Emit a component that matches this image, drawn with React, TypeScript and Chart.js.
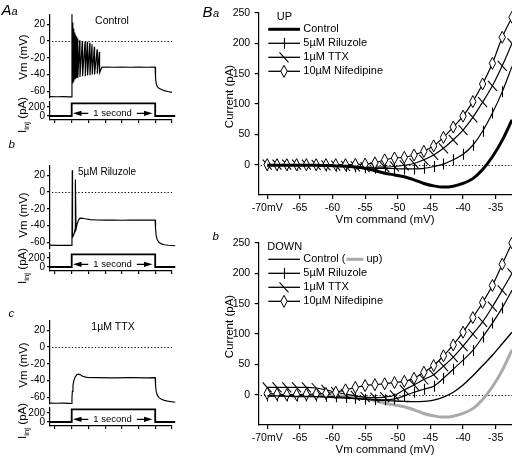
import React, { useEffect, useRef } from 'react';
import { Chart, registerables } from 'chart.js';

Chart.register(...registerables);

const FONT = '"Liberation Sans", Arial, Helvetica, sans-serif';

// ---------------- A panels: current-clamp traces (time in ms from step onset) ----------------
const timeTicks = [-200, 0, 200, 400, 600, 800, 1000, 1200];
const vmTicks = [-60, -40, -20, 0, 20];
const iinjTicks = [0, 200];
const panelTitles = ['Control', '5\u00b5M Riluzole', '1\u00b5M TTX'];

// current step (pA)
const stepT = [-260, 0, 0, 1000, 1000, 1240];
const stepI = [0, 0, 280, 280, 0, 0];

// Control trace
const ctrlPreT = [-260, -180, -100, -30, -1];
const ctrlPreV = [-66.4, -66.6, -66.5, -66.7, -66.8];
const ctrlSpikeT = [3, 13, 23, 34, 45, 57, 70, 96, 127, 160, 187, 216, 243, 271, 304, 331];
const ctrlSpikePeak = [32, 22, 15, 10, 7, 5, 3, 1, 0, -1, -1, -2, -4, -7, -10, -13];
const ctrlTroughT = [6, 16, 26, 37, 48, 60, 73, 99, 130, 163, 190, 219, 246, 274, 307, 334];
const ctrlTroughV = [-50, -48, -47, -46, -45, -44, -44, -43, -42, -42, -41, -41, -40, -40, -39, -38];
const ctrlPostT = [360, 420, 500, 600, 700, 800, 900, 999, 1004, 1012, 1025, 1045, 1075, 1110, 1150, 1200, 1240];
const ctrlPostV = [-31.5, -31, -31.4, -31, -31.3, -31.1, -31.3, -31.2, -44, -51, -54.5, -56.5, -58, -59.3, -60.3, -61.3, -62.3];

// Riluzole trace
const rilT = [-260, -180, -100, -30, -1, 3, 7, 10, 20, 34, 41, 44, 52, 65, 80, 95, 120, 160, 220, 300, 400, 500, 600, 700, 800, 900, 999, 1004, 1012, 1025, 1045, 1075, 1110, 1160, 1240];
const rilV = [-63.5, -63.7, -63.6, -63.8, -63.8, -55, 26, -54, -52, -48, -44, 15, -44, -38, -34, -31.5, -31.2, -32, -33, -33.4, -33.6, -33.4, -33.7, -33.5, -33.6, -33.4, -33.5, -44, -52, -57, -60, -62, -63, -63.6, -64.2];

// TTX trace
const ttxT = [-260, -180, -100, -30, -1, 3, 8, 15, 25, 40, 60, 80, 100, 130, 180, 300, 500, 700, 900, 999, 1004, 1012, 1025, 1045, 1075, 1110, 1170, 1240];
const ttxV = [-67, -67.2, -67.1, -67.3, -67.5, -61, -53, -46, -40.5, -36, -33.2, -32.4, -33, -35, -36.3, -36.6, -36.8, -36.6, -36.8, -36.6, -46, -53, -57.5, -60.5, -62.5, -63.7, -65, -66];

// ---------------- B panels: I-V relations (Vm command in mV, current in pA) ----------------
const mvTicks = [-70, -65, -60, -55, -50, -45, -40, -35];
const paTicks = [0, 50, 100, 150, 200, 250];
const legendLabels = ['Control', '5\u00b5M Riluzole', '1\u00b5M TTX', '10\u00b5M Nifedipine'];

const vCmd = [-70, -68.5, -67, -65.5, -64, -62.5, -61, -59.5, -58, -56.5, -55, -53.5, -52, -50.5, -49, -47.5, -46, -44.5, -43, -41.5, -40, -38.5, -37, -35.5, -34, -32.5];

const upControl = [-1, -1, -1, -1, -1, -1, -1.5, -2, -2.5, -4, -6, -10, -14, -17, -20, -25, -31, -35, -37, -35.5, -31, -23, -8, 13, 40, 74];
const upRil = [-1, -1, -1, -1, -1, -1.5, -2, -2.5, -3, -4, -5, -6, -6, -6.5, -7, -7, -6, -3, 1, 8, 17, 32, 55, 85, 120, 162];
const upTtx = [0, 0, 0, 0, 0, -0.5, -1, -1.5, -2, -3, -4, -4, -4, -3, -1, 2, 8, 16, 27, 41, 57, 78, 103, 130, 163, 200];
const upNif = [0, 0, 0, 0, 0, 0, 0, 0, 0, 0.5, 1, 3, 8, 11, 12, 16, 22, 31, 45, 62, 80, 104, 133, 167, 210, 243];

const downControl = [-2, -2, -2.5, -3, -3, -3.5, -4, -5, -5.5, -6.5, -7.5, -8.5, -9.5, -10.5, -11, -11.5, -11, -9, -4, 4, 16, 31, 48, 65, 84, 103];
const downRil = [-2, -2, -2, -2, -2, -2.5, -3, -3.5, -4.5, -6, -7.5, -8.5, -8.5, -7, -2, 4, 9, 14, 27, 42, 57, 73, 95, 118, 143, 172];
const downTtx = [12, 12, 12, 12, 12, 11, 8, 4, 1, -2, -4, -5, -4, -1, 8, 16, 25, 33, 47, 62, 80, 100, 120, 145, 172, 200];
const downNif = [2, 1, 0, 0, 0.5, 1, 2, 4, 8, 12, 15, 16.5, 18, 20, 22, 27, 37, 48, 64, 82, 103, 127, 152, 180, 215, 250];

// ---------------- helpers ----------------
type Rect = { x: number; y: number; w: number; h: number };
type Area = { l: number; t: number; r: number; b: number };
type Pt = { x: number; y: number };

function pts(xs: number[], ys: number[]): Pt[] {
  return xs.map((x, i) => ({ x, y: ys[i] }));
}

function controlTrace(): Pt[] {
  const p = pts(ctrlPreT, ctrlPreV);
  ctrlSpikeT.forEach((t, i) => {
    p.push({ x: t, y: ctrlSpikePeak[i] });
    p.push({ x: ctrlTroughT[i], y: ctrlTroughV[i] });
  });
  return p.concat(pts(ctrlPostT, ctrlPostV));
}

function txt(ctx: CanvasRenderingContext2D, s: string, x: number, y: number, size: number, o: any = {}) {
  ctx.save();
  ctx.font = `${o.italic ? 'italic ' : ''}${o.bold ? 'bold ' : ''}${size}px ${FONT}`;
  ctx.fillStyle = o.color || '#000';
  ctx.textAlign = o.align || 'left';
  ctx.textBaseline = o.baseline || 'alphabetic';
  ctx.translate(x, y);
  if (o.rot) ctx.rotate(o.rot);
  ctx.fillText(s, 0, 0);
  ctx.restore();
}

// vector markers: 'plus' (vertical tick), 'slash', 'diamond'
function drawMarker(ctx: CanvasRenderingContext2D, kind: string, x: number, y: number) {
  ctx.save();
  ctx.strokeStyle = '#000';
  ctx.lineWidth = 1.1;
  ctx.setLineDash([]);
  if (kind === 'plus') {
    const px = Math.round(x) + 0.5;
    ctx.beginPath(); ctx.moveTo(px, y - 5.5); ctx.lineTo(px, y + 5.5); ctx.stroke();
  } else if (kind === 'slash') {
    ctx.beginPath(); ctx.moveTo(x - 4.5, y - 5); ctx.lineTo(x + 4.5, y + 5); ctx.stroke();
  } else if (kind === 'diamond') {
    ctx.fillStyle = '#fff';
    ctx.lineWidth = 1;
    ctx.beginPath();
    ctx.moveTo(x, y - 6); ctx.lineTo(x + 3.2, y); ctx.lineTo(x, y + 6); ctx.lineTo(x - 3.2, y); ctx.closePath();
    ctx.fill(); ctx.stroke();
  }
  ctx.restore();
}

function axis(tickLen: number, pad: number, size: number, ticks: number[], fmt: (v: number) => string, fit: (s: any) => void) {
  return {
    type: 'linear',
    border: { display: true, color: '#000', width: 1.2 },
    grid: { display: true, drawOnChartArea: false, drawTicks: true, tickLength: tickLen, color: '#000', lineWidth: 1.2 },
    ticks: {
      color: '#000', padding: pad, font: { family: FONT, size }, autoSkip: false, maxRotation: 0, minRotation: 0,
      callback: (v: any) => fmt(Number(v)),
    },
    afterBuildTicks: (s: any) => { s.ticks = ticks.map((v) => ({ value: v })); },
    afterFit: fit,
  };
}

function makeSpec(rect: Rect, area: Area, yW: number, xH: number, xScale: any, yScale: any, datasets: any[], zeroLine: boolean, deco?: (ctx: CanvasRenderingContext2D, chart: any) => void) {
  const plugin = {
    id: 'deco',
    beforeDatasetsDraw(chart: any) {
      if (!zeroLine) return;
      const { ctx, chartArea } = chart;
      const y = Math.round(chart.scales.y.getPixelForValue(0)) + 0.5;
      ctx.save();
      ctx.strokeStyle = '#000';
      ctx.lineWidth = 1;
      ctx.setLineDash([1.3, 2]);
      ctx.beginPath();
      ctx.moveTo(chartArea.left + 2, y);
      ctx.lineTo(chartArea.right, y);
      ctx.stroke();
      ctx.restore();
    },
    afterDatasetDraw(chart: any, args: any) {
      const ds = chart.data.datasets[args.index];
      if (!ds.marker) return;
      const { ctx, chartArea } = chart;
      ctx.save();
      ctx.beginPath();
      ctx.rect(chartArea.left - 2, chartArea.top - 8, chartArea.right - chartArea.left + 8, chartArea.bottom - chartArea.top + 10);
      ctx.clip();
      args.meta.data.forEach((el: any) => drawMarker(ctx, ds.marker, el.x, el.y));
      ctx.restore();
    },
    afterDraw(chart: any) {
      if (!deco) return;
      const ctx = chart.ctx;
      ctx.save();
      ctx.translate(-rect.x, -rect.y);
      deco(ctx, chart);
      ctx.restore();
    },
  };
  return {
    rect,
    config: {
      type: 'line',
      data: { datasets },
      options: {
        animation: false,
        responsive: false,
        maintainAspectRatio: false,
        events: [],
        layout: {
          autoPadding: false,
          padding: {
            left: area.l - rect.x - yW,
            top: area.t - rect.y,
            right: rect.x + rect.w - area.r,
            bottom: rect.y + rect.h - area.b - xH,
          },
        },
        plugins: { legend: { display: false }, tooltip: { enabled: false }, title: { display: false } },
        scales: { x: xScale, y: yScale },
      },
      plugins: [plugin],
    },
  };
}

// ---------------- layout constants ----------------
const panelDy = [0, 151, 306];
const letterInfo = [
  { s: 'A', sub: 'a', x: 1.5, y: 15 },
  { s: 'b', sub: '', x: 8.5, y: 148.3 },
  { s: 'c', sub: '', x: 8.5, y: 317.3 },
];
const titleX = [112, 107, 113];
const titleSize = [10.5, 10, 10.5];
const vmLabelY = [57, 215, 365];

function leftSpecs(i: number, trace: Pt[]) {
  const dy = panelDy[i];
  const L = 50, R = 171.9;
  const xHidden = { type: 'linear', min: -260, max: 1200, display: false };

  const vmRect = { x: 0, y: dy - 14, w: 200, h: 126 };
  const vmArea = { l: L, t: dy + 14.2, r: R, b: dy + 97.95 };
  const vmY = { ...axis(3, 2, 10, vmTicks, (v) => String(v), (s: any) => { s.width = 50; }), min: -68, max: 32 };
  const vmSets = [{ data: trace, borderColor: '#000', borderWidth: 1.15, pointRadius: 0, tension: 0, clip: 6 }];
  const vm = makeSpec(vmRect, vmArea, 50, 0, xHidden, vmY, vmSets, true, (ctx) => {
    const li = letterInfo[i];
    if (li.sub) {
      txt(ctx, li.s, li.x, li.y, 15, { italic: true });
      txt(ctx, li.sub, li.x + 10, li.y, 11, { italic: true });
    } else {
      txt(ctx, li.s, li.x, li.y, 11.5, { italic: true });
    }
    txt(ctx, 'Vm (mV)', 24, vmLabelY[i], 11.5, { align: 'center', baseline: 'middle', rot: -Math.PI / 2 });
    txt(ctx, panelTitles[i], titleX[i], dy + 21, titleSize[i], { align: 'center', baseline: 'middle' });
  });

  const iRect = { x: 0, y: dy + 88, w: 200, h: 52 };
  const iArea = { l: L, t: dy + 102, r: R, b: dy + 120 };
  const iX = { ...axis(3, 0, 10, timeTicks, () => '', (s: any) => { s.height = 5; }), min: -260, max: 1200 };
  const iY = { ...axis(3, 2, 10, iinjTicks, (v) => String(v), (s: any) => { s.width = 50; }), min: -89, max: 311 };
  const iSets = [{ data: pts(stepT, stepI), borderColor: '#000', borderWidth: 1.8, pointRadius: 0, tension: 0, clip: 6 }];
  const inj = makeSpec(iRect, iArea, 50, 5, iX, iY, iSets, false, (ctx) => {
    // rotated "Iinj (pA)" label
    const cx = 22, cy = dy + 115;
    ctx.save();
    ctx.translate(cx, cy);
    ctx.rotate(-Math.PI / 2);
    ctx.fillStyle = '#000';
    ctx.font = `11.5px ${FONT}`;
    const w1 = ctx.measureText('I').width;
    const w3 = ctx.measureText(' (pA)').width;
    ctx.font = `8px ${FONT}`;
    const w2 = ctx.measureText('inj').width;
    const x = -(w1 + w2 + w3) / 2;
    ctx.font = `11.5px ${FONT}`;
    ctx.fillText('I', x, 4);
    ctx.font = `8px ${FONT}`;
    ctx.fillText('inj', x + w1, 6.5);
    ctx.font = `11.5px ${FONT}`;
    ctx.fillText(' (pA)', x + w1 + w2, 4);
    ctx.restore();

    // "<- 1 second ->"
    const yA = dy + 113.3, mid = 112.5;
    ctx.save();
    ctx.font = `9.5px ${FONT}`;
    const tw = ctx.measureText('1 second').width;
    ctx.restore();
    txt(ctx, '1 second', mid, yA, 9.5, { align: 'center', baseline: 'middle' });
    ctx.save();
    ctx.strokeStyle = '#000';
    ctx.fillStyle = '#000';
    ctx.lineWidth = 1.2;
    ctx.beginPath();
    ctx.moveTo(80, yA); ctx.lineTo(mid - tw / 2 - 5, yA);
    ctx.moveTo(mid + tw / 2 + 5, yA); ctx.lineTo(145, yA);
    ctx.stroke();
    ctx.beginPath();
    ctx.moveTo(73, yA); ctx.lineTo(81.5, yA - 2.6); ctx.lineTo(81.5, yA + 2.6); ctx.closePath();
    ctx.moveTo(152.5, yA); ctx.lineTo(144, yA - 2.6); ctx.lineTo(144, yA + 2.6); ctx.closePath();
    ctx.fill();
    ctx.restore();
  });
  return [vm, inj];
}

function rightSpec(which: 'up' | 'down') {
  const oy = which === 'up' ? 0 : 230;
  const rect = { x: 200, y: oy, w: 312, h: which === 'up' ? 230 : 226 };
  const area = { l: 258.7, t: oy + 13, r: 512, b: oy + 195 };
  const xH = rect.y + rect.h - area.b;
  const xS = {
    ...axis(4, 2.5, 10.5, mvTicks, (v) => (v === -70 ? '-70mV' : String(v)), (s: any) => { s.height = xH; }),
    min: -71.3, max: -32.5,
  };
  const yS = { ...axis(4, 4.5, 10.5, paTicks, (v) => String(v), (s: any) => { s.width = 58.7; }), min: -50, max: 250 };

  const common = { borderColor: '#000', tension: 0.4, cubicInterpolationMode: 'monotone', clip: 2 };
  const marked = (ys: number[], kind: string) => ({
    ...common, data: pts(vCmd, ys), borderWidth: 1.2, pointRadius: 0, marker: kind,
  });
  let datasets: any[];
  if (which === 'up') {
    datasets = [
      { ...common, data: pts(vCmd, upControl), borderWidth: 3, pointRadius: 0, borderJoinStyle: 'round' },
      marked(upNif, 'diamond'),
      marked(upTtx, 'slash'),
      marked(upRil, 'plus'),
    ];
  } else {
    datasets = [
      { ...common, data: pts(vCmd, downControl), borderWidth: 1.4, pointRadius: 0 },
      marked(downNif, 'diamond'),
      marked(downTtx, 'slash'),
      marked(downRil, 'plus'),
      { ...common, data: pts(vCmd, upControl), borderColor: '#a9a9a9', borderWidth: 3, pointRadius: 0, borderJoinStyle: 'round' },
    ];
  }

  return makeSpec(rect, area, 58.7, xH, xS, yS, datasets, true, (ctx) => {
    // panel letters
    if (which === 'up') {
      txt(ctx, 'B', 202.5, 16.5, 15, { italic: true });
      txt(ctx, 'a', 213, 16.5, 11, { italic: true });
    } else {
      txt(ctx, 'b', 212.5, 239.5, 11.5, { italic: true });
    }
    // axis titles
    txt(ctx, 'Current (pA)', 230, oy + 96.5, 11.5, { align: 'center', baseline: 'middle', rot: -Math.PI / 2 });
    txt(ctx, 'Vm command (mV)', 385, oy + 220, 11.5, { align: 'center', baseline: 'middle' });

    // legend
    const head = which === 'up' ? 'UP' : 'DOWN';
    txt(ctx, head, which === 'up' ? 276.7 : 267.3, oy + 17.3, 11, { baseline: 'middle' });
    const kinds = ['', 'plus', 'slash', 'diamond'];
    for (let k = 0; k < 4; k++) {
      const y = oy + 29.3 + 14 * k;
      ctx.save();
      ctx.strokeStyle = '#000';
      ctx.lineWidth = k === 0 && which === 'up' ? 3 : 1.3;
      ctx.beginPath();
      ctx.moveTo(268.3, y); ctx.lineTo(300, y);
      ctx.stroke();
      ctx.restore();
      if (kinds[k]) drawMarker(ctx, kinds[k], 284, y);
      if (k === 0 && which === 'down') {
        const t0 = 'Control (';
        ctx.save();
        ctx.font = `11px ${FONT}`;
        const w = ctx.measureText(t0).width;
        ctx.restore();
        txt(ctx, t0, 303.3, y, 11, { baseline: 'middle' });
        const gx0 = 303.3 + w + 1;
        ctx.save();
        ctx.strokeStyle = '#a9a9a9';
        ctx.lineWidth = 3;
        ctx.beginPath(); ctx.moveTo(gx0, y); ctx.lineTo(gx0 + 17, y); ctx.stroke();
        ctx.restore();
        txt(ctx, 'up)', gx0 + 20, y, 11, { baseline: 'middle' });
      } else {
        txt(ctx, legendLabels[k], 303.3, y, 11, { baseline: 'middle' });
      }
    }
  });
}

function buildSpecs() {
  const traces = [controlTrace(), pts(rilT, rilV), pts(ttxT, ttxV)];
  const specs: any[] = [];
  for (let i = 0; i < 3; i++) specs.push(...leftSpecs(i, traces[i]));
  specs.push(rightSpec('up'));
  specs.push(rightSpec('down'));
  return specs;
}

const RECTS: Rect[] = (() => {
  const r: Rect[] = [];
  for (let i = 0; i < 3; i++) {
    const dy = panelDy[i];
    r.push({ x: 0, y: dy - 14, w: 200, h: 126 });
    r.push({ x: 0, y: dy + 88, w: 200, h: 52 });
  }
  r.push({ x: 200, y: 0, w: 312, h: 230 });
  r.push({ x: 200, y: 230, w: 312, h: 226 });
  return r;
})();

export default function App() {
  const refs = useRef<(HTMLCanvasElement | null)[]>([]);
  useEffect(() => {
    Chart.defaults.font.family = FONT;
    Chart.defaults.color = '#000';
    const specs = buildSpecs();
    const charts = specs.map((s: any, i: number) => new Chart(refs.current[i] as HTMLCanvasElement, s.config));
    return () => charts.forEach((c) => c.destroy());
  }, []);
  return (
    <div style={{ position: 'absolute', left: 0, top: 0, width: 512, height: 456, overflow: 'hidden', background: '#fff' }}>
      {RECTS.map((r, i) => (
        <canvas
          key={i}
          ref={(el) => { refs.current[i] = el; }}
          width={r.w}
          height={r.h}
          style={{ position: 'absolute', left: r.x, top: r.y, width: r.w, height: r.h }}
        />
      ))}
    </div>
  );
}
